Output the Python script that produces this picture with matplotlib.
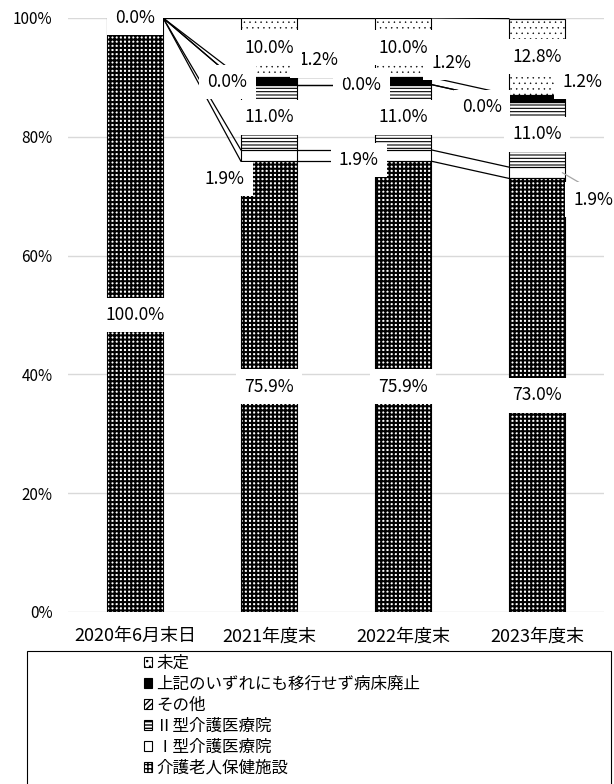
import matplotlib
matplotlib.use("Agg")
import matplotlib.pyplot as plt
from matplotlib.patches import Rectangle
import numpy as np

plt.rcParams['font.family'] = ['Noto Sans CJK JP', 'DejaVu Sans']

# ---- data -------------------------------------------------------------
categories = ['2020年6月末日', '2021年度末', '2022年度末', '2023年度末']
series_names = ['介護老人保健施設', 'Ⅰ型介護医療院', 'Ⅱ型介護医療院', 'その他',
                '上記のいずれにも移行せず病床廃止', '未定']
roken = [100.0, 75.9, 75.9, 73.0]
iryoin_1 = [0.0, 1.9, 1.9, 1.9]
iryoin_2 = [0.0, 11.0, 11.0, 11.0]
sonota = [0.0, 0.0, 0.0, 0.0]
haishi = [0.0, 1.2, 1.2, 1.2]
mitei = [0.0, 10.0, 10.0, 12.8]
series_values = [roken, iryoin_1, iryoin_2, sonota, haishi, mitei]

# ---- styles (face, hatch, hatch linewidth) -----------------------------
styles = [
    ('white', '++++', 1.5),
    ('white', None, 0.8),
    ('white', '-----', 0.8),
    ('white', '//////', 0.8),
    ('black', None, 0.8),
    ('white', '...', 0.3),
]

# label placement tweaks: (series, category) -> (dx in categories, dy in %)
label_offsets = {
    (0, 0): (0, 0), (5, 0): (0, 0),
    (0, 1): (0, 0), (1, 1): (-0.33, -3.95), (2, 1): (0, 0),
    (3, 1): (-0.31, 0.4), (4, 1): (0.37, 3.5), (5, 1): (0, 0),
    (0, 2): (0, 0), (1, 2): (-0.33, -0.75), (2, 2): (0, 0),
    (3, 2): (-0.31, -0.1), (4, 2): (0.36, 3.0), (5, 2): (0, 0),
    (0, 3): (0, 0), (1, 3): (0.42, -4.55), (2, 3): (0, 0),
    (3, 3): (-0.41, -0.9), (4, 3): (0.34, 2.7), (5, 3): (0, 0),
}

W, H = 614, 784
fig = plt.figure(figsize=(W / 100, H / 100), dpi=100)
ax = fig.add_axes([68 / W, 1 - 612 / H, (604 - 68) / W, (612 - 18) / H])

x = np.arange(len(categories))
width = 0.42
bottom = np.zeros(len(categories))
tops = []

for k, vals in enumerate(series_values):
    face, hatch, hlw = styles[k]
    vals = np.asarray(vals)
    bars = ax.bar(x, vals, width, bottom=bottom, color=face, hatch=hatch,
                  edgecolor='black', linewidth=0, zorder=2)
    for p in bars:
        if hasattr(p, 'set_hatch_linewidth'):
            p.set_hatch_linewidth(hlw)
    ax.bar(x, vals, width, bottom=bottom, fill=False, edgecolor='black',
           linewidth=0.8, zorder=3)
    centers = bottom + vals / 2
    for (s, c), (dx, dy) in label_offsets.items():
        if s != k:
            continue
        ax.text(x[c] + dx, centers[c] + dy, f'{vals[c]:.1f}%', ha='center',
                va='center', fontsize=12.5, zorder=6,
                bbox=dict(boxstyle='square,pad=0.48', fc='white', ec='none'))
    bottom = bottom + vals
    tops.append(bottom.copy())

# series lines joining the top of each segment between neighbouring bars
for top in tops:
    for i in range(len(categories) - 1):
        ax.plot([x[i] + width / 2, x[i + 1] - width / 2], [top[i], top[i + 1]],
                color='black', linewidth=0.9, zorder=1.5)

# leader line for the 2023 Ⅰ型 label
c = 3
seg_mid = tops[0][c] + iryoin_1[c] / 2
ax.plot([x[c] + width / 2 - 0.02, x[c] + 0.41], [seg_mid, seg_mid - 2.9],
        color='#a6a6a6', linewidth=0.9, zorder=5)

ax.set_xlim(-0.5, 3.5)
ax.set_ylim(0, 100)
ax.set_yticks(np.arange(0, 101, 20))
ax.set_yticklabels([f'{v}%' for v in range(0, 101, 20)], fontsize=11)
ax.set_xticks(x)
ax.set_xticklabels(categories, fontsize=13)
ax.tick_params(axis='y', length=0, pad=11)
ax.tick_params(axis='x', length=0, pad=11)
ax.grid(axis='y', color='#d9d9d9', linewidth=1.0, zorder=0)
ax.set_axisbelow(True)
for sp in ax.spines.values():
    sp.set_visible(False)

# legend (reverse order, as in the stacked layout)
handles = []
for k in range(len(series_names)):
    face, hatch, hlw = styles[k]
    r = Rectangle((0, 0), 1, 1, facecolor=face, hatch=hatch,
                  edgecolor='black', linewidth=0.8)
    if hasattr(r, 'set_hatch_linewidth'):
        r.set_hatch_linewidth(hlw)
    handles.append(r)
leg = fig.legend(handles[::-1], series_names[::-1], loc='upper left',
                 bbox_to_anchor=(144 / W, 1 - 655 / H), frameon=False,
                 fontsize=11.9, handlelength=0.5, handleheight=0.5,
                 handletextpad=0.25, labelspacing=0.24, borderpad=0,
                 borderaxespad=0)
fig.add_artist(Rectangle((27 / W, -0.05), (611 - 27) / W, (784 - 651) / H + 0.05,
                         transform=fig.transFigure, fill=False,
                         edgecolor='black', linewidth=0.8))

fig.savefig('out.png', dpi=100)
